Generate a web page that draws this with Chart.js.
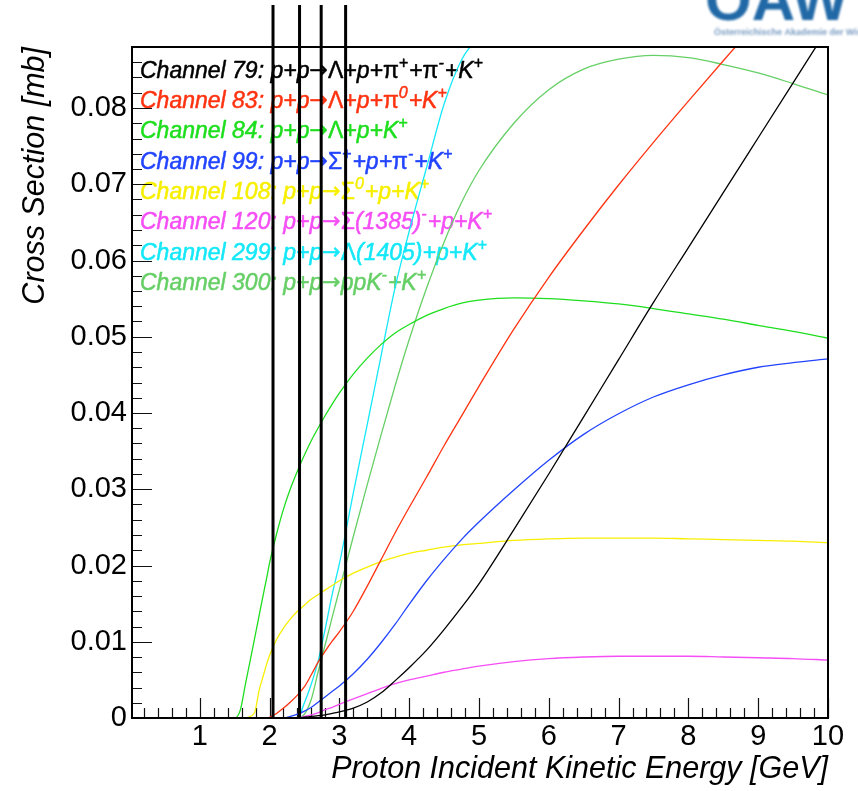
<!DOCTYPE html>
<html>
<head>
<meta charset="utf-8">
<script src="https://cdn.jsdelivr.net/npm/chart.js@4.4.1/dist/chart.umd.min.js"></script>
<style>
  html, body { margin: 0; padding: 0; background: #fff; overflow: hidden; }
  canvas { display: block; }
</style>
</head>
<body>
<canvas id="xsec" width="858" height="791"></canvas>
<script>
// Proton incident kinetic energy grid [GeV]
const energy = [0, 1.5, 1.58, 1.65, 1.72, 1.79, 1.85, 1.9, 1.96, 2.0,
  2.1, 2.2, 2.3, 2.4, 2.5, 2.6, 2.7, 2.8, 2.9, 3.0,
  3.2, 3.4, 3.6, 3.8, 4.0, 4.25, 4.5, 4.75, 5.0, 5.5,
  6.0, 6.5, 7.0, 7.5, 8.0, 8.5, 9.0, 9.5, 10.0];

// Cross sections [mb] per channel on the energy grid
const ch79 = [0, 0, 0, 0, 0, 0, 0, 0, 0, 0,
  0, 0, 0, 0, 0.0001, 0.0002, 0.0003, 0.0004, 0.0006, 0.0008,
  0.0013, 0.0021, 0.0033, 0.0049, 0.0066, 0.0089, 0.0116, 0.0145, 0.0176, 0.0247,
  0.0320, 0.0395, 0.0470, 0.0545, 0.0617, 0.0689, 0.0761, 0.0833, 0.0905];
const ch83 = [0, 0, 0, 0, 0, 0, 0, 0, 0, 0.0001,
  0.0006, 0.0013, 0.0021, 0.0030, 0.0041, 0.0057, 0.0074, 0.0088, 0.0101, 0.0113,
  0.0140, 0.0173, 0.0208, 0.0243, 0.0276, 0.0316, 0.0357, 0.0396, 0.0435, 0.0510,
  0.0578, 0.0640, 0.0699, 0.0755, 0.0809, 0.0862, 0.0914, null, null];
const ch84 = [0, 0, 0.0010, 0.0042, 0.0074, 0.0106, 0.0134, 0.0157, 0.0184, 0.0203,
  0.0241, 0.0274, 0.0301, 0.0324, 0.0345, 0.0364, 0.0381, 0.0397, 0.0412, 0.0426,
  0.0451, 0.0472, 0.0490, 0.0505, 0.0516, 0.0528, 0.0537, 0.0544, 0.0548, 0.0551,
  0.0550, 0.0547, 0.0543, 0.0537, 0.0530, 0.0523, 0.0515, 0.0507, 0.0498];
const ch99 = [0, 0, 0, 0, 0, 0, 0, 0, 0, 0,
  0, 0, 0.0002, 0.0005, 0.0009, 0.0014, 0.0021, 0.0028, 0.0035, 0.0042,
  0.0058, 0.0077, 0.0099, 0.0123, 0.0149, 0.0180, 0.0208, 0.0234, 0.0257, 0.0299,
  0.0338, 0.0372, 0.0399, 0.0421, 0.0437, 0.0450, 0.0460, 0.0466, 0.0471];
const ch108 = [0, 0, 0, 0, 0.0002, 0.0008, 0.0036, 0.0052, 0.0071, 0.0082,
  0.0103, 0.0118, 0.0130, 0.0140, 0.0148, 0.0156, 0.0162, 0.0168, 0.0174, 0.0180,
  0.0190, 0.0198, 0.0205, 0.0211, 0.0216, 0.0220, 0.0224, 0.0227, 0.0229, 0.0233,
  0.0235, 0.0236, 0.0236, 0.0236, 0.0235, 0.0234, 0.0233, 0.0232, 0.0230];
const ch120 = [0, 0, 0, 0, 0, 0, 0, 0, 0, 0,
  0, 0, 0, 0, 0.0002, 0.0004, 0.0007, 0.0011, 0.0014, 0.0018,
  0.0025, 0.0032, 0.0039, 0.0045, 0.0050, 0.0055, 0.0060, 0.0064, 0.0068, 0.0074,
  0.0078, 0.0080, 0.0081, 0.0081, 0.0081, 0.0080, 0.0079, 0.0078, 0.0076];
const ch299 = [0, 0, 0, 0, 0, 0, 0, 0, 0, 0,
  0, 0, 0, 0, 0.0020, 0.0045, 0.0076, 0.0118, 0.0163, 0.0202,
  0.0295, 0.0385, 0.0476, 0.0565, 0.0638, 0.0722, 0.0805, 0.0863, 0.0895, null,
  null, null, null, null, null, null, null, null, null];
const ch300 = [0, 0, 0, 0, 0, 0, 0, 0, 0, 0,
  0, 0, 0, 0, 0.0005, 0.0025, 0.0062, 0.0097, 0.0133, 0.0168,
  0.0238, 0.0306, 0.0372, 0.0436, 0.0496, 0.0564, 0.0624, 0.0676, 0.0718, 0.0780,
  0.0824, 0.0851, 0.0864, 0.0869, 0.0866, 0.0857, 0.0846, 0.0832, 0.0817];

const channelSeries = [ch79, ch83, ch84, ch99, ch108, ch120, ch299, ch300];
const channelLabels = [
  'Channel 79: p+p\u2192\u039B+p+\u03C0^{+}+\u03C0^{-}+K^{+}',
  'Channel 83: p+p\u2192\u039B+p+\u03C0^{0}+K^{+}',
  'Channel 84: p+p\u2192\u039B+p+K^{+}',
  'Channel 99: p+p\u2192\u03A3^{+}+p+\u03C0^{-}+K^{+}',
  'Channel 108: p+p\u2192\u03A3^{0}+p+K^{+}',
  'Channel 120: p+p\u2192\u03A3(1385)^{-}+p+K^{+}',
  'Channel 299: p+p\u2192\u039B(1405)+p+K^{+}',
  'Channel 300: p+p\u2192ppK^{-}+K^{+}'
];
const channelColors = ['#000000', '#ff3311', '#1ede1e', '#2244ff',
  '#f7ef00', '#f54ef5', '#15e8f8', '#66cf66'];

// Marker energies [GeV] drawn as vertical lines, and their upper end [mb]
const markerEnergies = [2.05, 2.43, 2.74, 3.09];
const markerTop = 0.0935;

// Axis ticks
const xTickValues = [1, 2, 3, 4, 5, 6, 7, 8, 9, 10];
const xTickLabels = ['1', '2', '3', '4', '5', '6', '7', '8', '9', '10'];
const yTickValues = [0, 0.01, 0.02, 0.03, 0.04, 0.05, 0.06, 0.07, 0.08];
const yTickLabels = ['0', '0.01', '0.02', '0.03', '0.04', '0.05', '0.06', '0.07', '0.08'];

const FONT = "'Liberation Sans', Arial, Helvetica, sans-serif";

// Split a label like "\u03C0^{+}" into runs: plain text, greek, arrow, superscript
function parseRuns(text) {
  const runs = [];
  const pushPlain = (s) => {
    let cur = null;
    for (const ch of s) {
      const kind = ch === '\u2192' ? 'arrow' : (/[\u0370-\u03FF]/.test(ch) ? 'greek' : 'text');
      if (cur && cur.kind === kind) cur.t += ch;
      else { cur = { t: ch, kind }; runs.push(cur); }
    }
  };
  const re = /\^\{([^}]*)\}/g;
  let last = 0, m;
  while ((m = re.exec(text)) !== null) {
    if (m.index > last) pushPlain(text.slice(last, m.index));
    runs.push({ t: m[1], kind: 'sup' });
    last = re.lastIndex;
  }
  if (last < text.length) pushPlain(text.slice(last));
  return runs;
}

const runFonts = {
  text: 'italic 23px ' + FONT,
  greek: '23px ' + FONT,
  arrow: "22px 'DejaVu Sans', sans-serif",
  sup: 'italic 16px ' + FONT
};

const backgroundAndLogo = {
  id: 'backgroundAndLogo',
  beforeDraw(chart) {
    const ctx = chart.ctx;
    ctx.save();
    ctx.fillStyle = '#ffffff';
    ctx.fillRect(0, 0, chart.width, chart.height);
    ctx.filter = 'blur(1.3px)';
    ctx.fillStyle = '#2068a6';
    ctx.font = 'bold 60px ' + FONT;
    ctx.textBaseline = 'alphabetic';
    ctx.fillText('ÖAW', 705, 20);
    ctx.fillStyle = '#7a9cc2';
    ctx.font = 'bold 9px ' + FONT;
    ctx.fillText('Österreichische Akademie der Wissenschaften', 714, 35);
    ctx.filter = 'none';
    ctx.fillStyle = '#ffffff';
    ctx.fillRect(0, 38, 847, chart.height - 38);
    ctx.restore();
  }
};

const channelLegend = {
  id: 'channelLegend',
  beforeDatasetsDraw(chart) {
    const ctx = chart.ctx;
    ctx.save();
    ctx.textBaseline = 'alphabetic';
    ctx.textAlign = 'left';
    ctx.lineJoin = 'round';
    const x0 = 140, y0 = 77.5, dy = 30.35;
    chart.data.datasets.forEach((ds, i) => {
      if (!ds.channelText) return;
      let x = x0;
      const y = y0 + dy * i;
      ctx.fillStyle = ds.borderColor;
      ctx.strokeStyle = ds.borderColor;
      ctx.lineWidth = 0.5;
      for (const r of parseRuns(ds.channelText)) {
        ctx.font = runFonts[r.kind];
        const ty = r.kind === 'sup' ? y - 10 : (r.kind === 'arrow' ? y - 1 : y);
        ctx.fillText(r.t, x, ty);
        ctx.strokeText(r.t, x, ty);
        x += ctx.measureText(r.t).width + (r.kind === 'sup' ? 1 : 0);
      }
    });
    ctx.restore();
  }
};

const frameAndTicks = {
  id: 'frameAndTicks',
  beforeDatasetsDraw(chart) {
    const { ctx, chartArea: a, scales: { x, y } } = chart;
    ctx.save();
    ctx.strokeStyle = '#111';
    ctx.lineWidth = 1.2;
    ctx.beginPath();
    for (let k = Math.ceil(x.min / 0.2 - 1e-9); k * 0.2 <= x.max + 1e-9; k++) {
      const px = Math.round(x.getPixelForValue(k * 0.2)) + 0.5;
      const len = (k % 5 === 0) ? 20 : 10;
      ctx.moveTo(px, a.bottom);
      ctx.lineTo(px, a.bottom - len);
    }
    for (let k = 0; k * 0.002 <= y.max + 1e-9; k++) {
      const py = Math.round(y.getPixelForValue(k * 0.002)) + 0.5;
      const len = (k % 5 === 0) ? 20 : 10;
      ctx.moveTo(a.left, py);
      ctx.lineTo(a.left + len, py);
    }
    ctx.stroke();
    ctx.restore();
  },
  afterDatasetsDraw(chart) {
    const { ctx, chartArea: a } = chart;
    ctx.save();
    ctx.strokeStyle = '#000';
    ctx.lineWidth = 2;
    ctx.strokeRect(a.left, a.top, a.right - a.left, a.bottom - a.top);
    ctx.restore();
  }
};

const curveSets = channelSeries.map((s, i) => ({
  label: channelLabels[i].replace(/\^\{([^}]*)\}/g, '$1'),
  channelText: channelLabels[i],
  data: energy.map((e, j) => ({ x: e, y: s[j] })),
  borderColor: channelColors[i],
  backgroundColor: channelColors[i],
  borderWidth: 1.3,
  pointRadius: 0,
  cubicInterpolationMode: 'monotone',
  spanGaps: false,
  fill: false,
  order: 2
}));

const markerSets = markerEnergies.map(e => ({
  label: 'E = ' + e + ' GeV',
  data: [{ x: e, y: 0 }, { x: e, y: markerTop }],
  borderColor: '#000000',
  borderWidth: 3,
  pointRadius: 0,
  clip: false,
  fill: false,
  order: 0
}));

new Chart(document.getElementById('xsec'), {
  type: 'line',
  data: { datasets: [...curveSets, ...markerSets] },
  options: {
    responsive: false,
    animation: false,
    devicePixelRatio: 1,
    layout: { padding: { left: 0, top: 47, right: 30, bottom: 0 } },
    plugins: { legend: { display: false }, tooltip: { enabled: false } },
    scales: {
      x: {
        type: 'linear',
        min: 0.03,
        max: 10,
        grid: { display: false, drawTicks: false },
        border: { display: false },
        afterBuildTicks: s => { s.ticks = xTickValues.map(v => ({ value: v })); },
        afterFit: s => { s.height = 73; },
        ticks: {
          color: '#000',
          font: { family: FONT, size: 29 },
          padding: 2,
          maxRotation: 0,
          autoSkip: false,
          callback: (v, i) => xTickLabels[i]
        },
        title: {
          display: true,
          text: 'Proton Incident Kinetic Energy [GeV]',
          align: 'end',
          color: '#000',
          font: { family: FONT, size: 30.5, style: 'italic' },
          padding: { top: 0, bottom: 3 }
        }
      },
      y: {
        type: 'linear',
        min: 0,
        max: 0.088,
        grid: { display: false, drawTicks: false },
        border: { display: false },
        afterBuildTicks: s => { s.ticks = yTickValues.map(v => ({ value: v })); },
        afterFit: s => { s.width = 132; },
        ticks: {
          color: '#000',
          font: { family: FONT, size: 29 },
          padding: 5,
          autoSkip: false,
          callback: (v, i) => yTickLabels[i]
        },
        title: {
          display: true,
          text: 'Cross Section [mb]',
          align: 'end',
          color: '#000',
          font: { family: FONT, size: 30.5, style: 'italic' },
          padding: { top: 17, bottom: 0 }
        }
      }
    }
  },
  plugins: [backgroundAndLogo, channelLegend, frameAndTicks]
});
</script>
</body>
</html>
